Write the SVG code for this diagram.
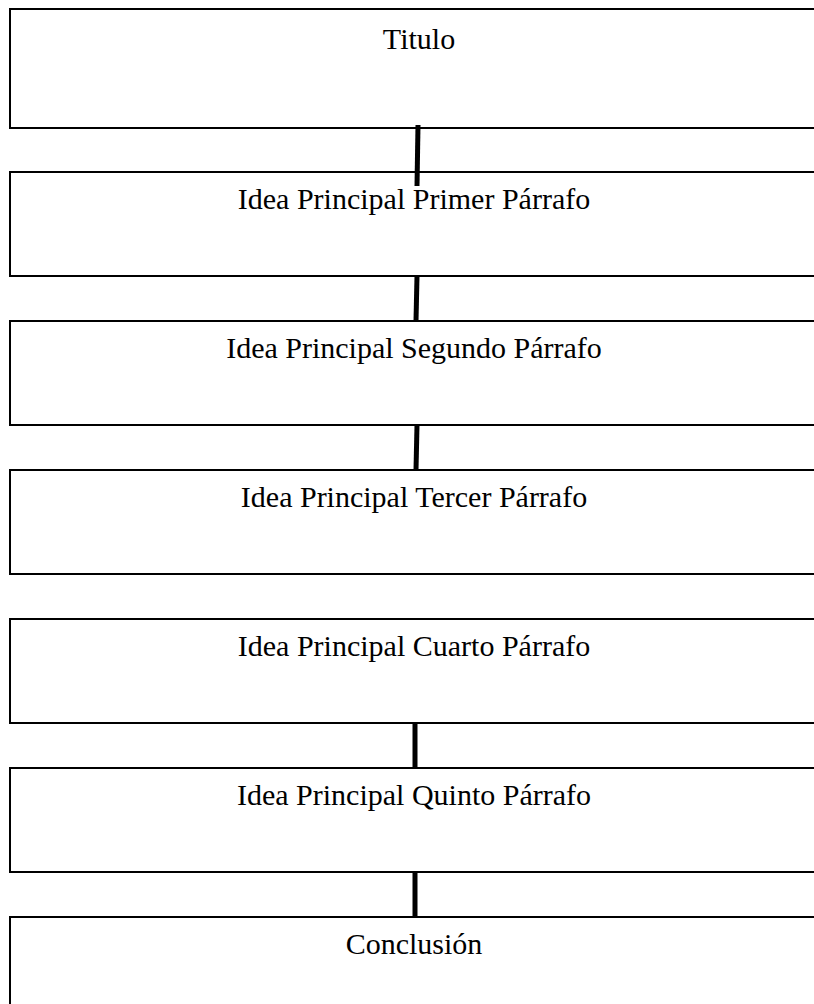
<svg xmlns="http://www.w3.org/2000/svg" width="814" height="1004" viewBox="0 0 814 1004">
<style>
.box{fill:#fff;stroke:#000;stroke-width:2}
.lbl{font-family:"Liberation Serif","Times New Roman",serif;font-size:30px;fill:#000;text-anchor:middle}
.con{stroke:#000;stroke-width:5;fill:none}
</style>
<rect width="814" height="1004" fill="#fff"/>
<g id="n1"><rect class="box" x="10" y="9" width="820" height="119"/><text class="lbl" x="419" y="49">Titulo</text></g>
<g id="n2"><rect class="box" x="10" y="172" width="820" height="104"/><text class="lbl" x="414" y="209">Idea Principal Primer Párrafo</text></g>
<g id="n3"><rect class="box" x="10" y="321" width="820" height="104"/><text class="lbl" x="414" y="358">Idea Principal Segundo Párrafo</text></g>
<g id="n4"><rect class="box" x="10" y="470" width="820" height="104"/><text class="lbl" x="414" y="507">Idea Principal Tercer Párrafo</text></g>
<g id="n5"><rect class="box" x="10" y="619" width="820" height="104"/><text class="lbl" x="414" y="656">Idea Principal Cuarto Párrafo</text></g>
<g id="n6"><rect class="box" x="10" y="768" width="820" height="104"/><text class="lbl" x="414" y="805">Idea Principal Quinto Párrafo</text></g>
<g id="n7"><rect class="box" x="10" y="917" width="820" height="104"/><text class="lbl" x="414" y="954">Conclusión</text></g>
<g id="connectors">
<line class="con" x1="418" y1="125" x2="417" y2="186"/>
<line class="con" x1="417" y1="276" x2="416" y2="321"/>
<line class="con" x1="417" y1="425" x2="416" y2="470"/>
<line class="con" x1="415" y1="723" x2="415" y2="768"/>
<line class="con" x1="415" y1="872" x2="415" y2="917"/>
</g>
</svg>
